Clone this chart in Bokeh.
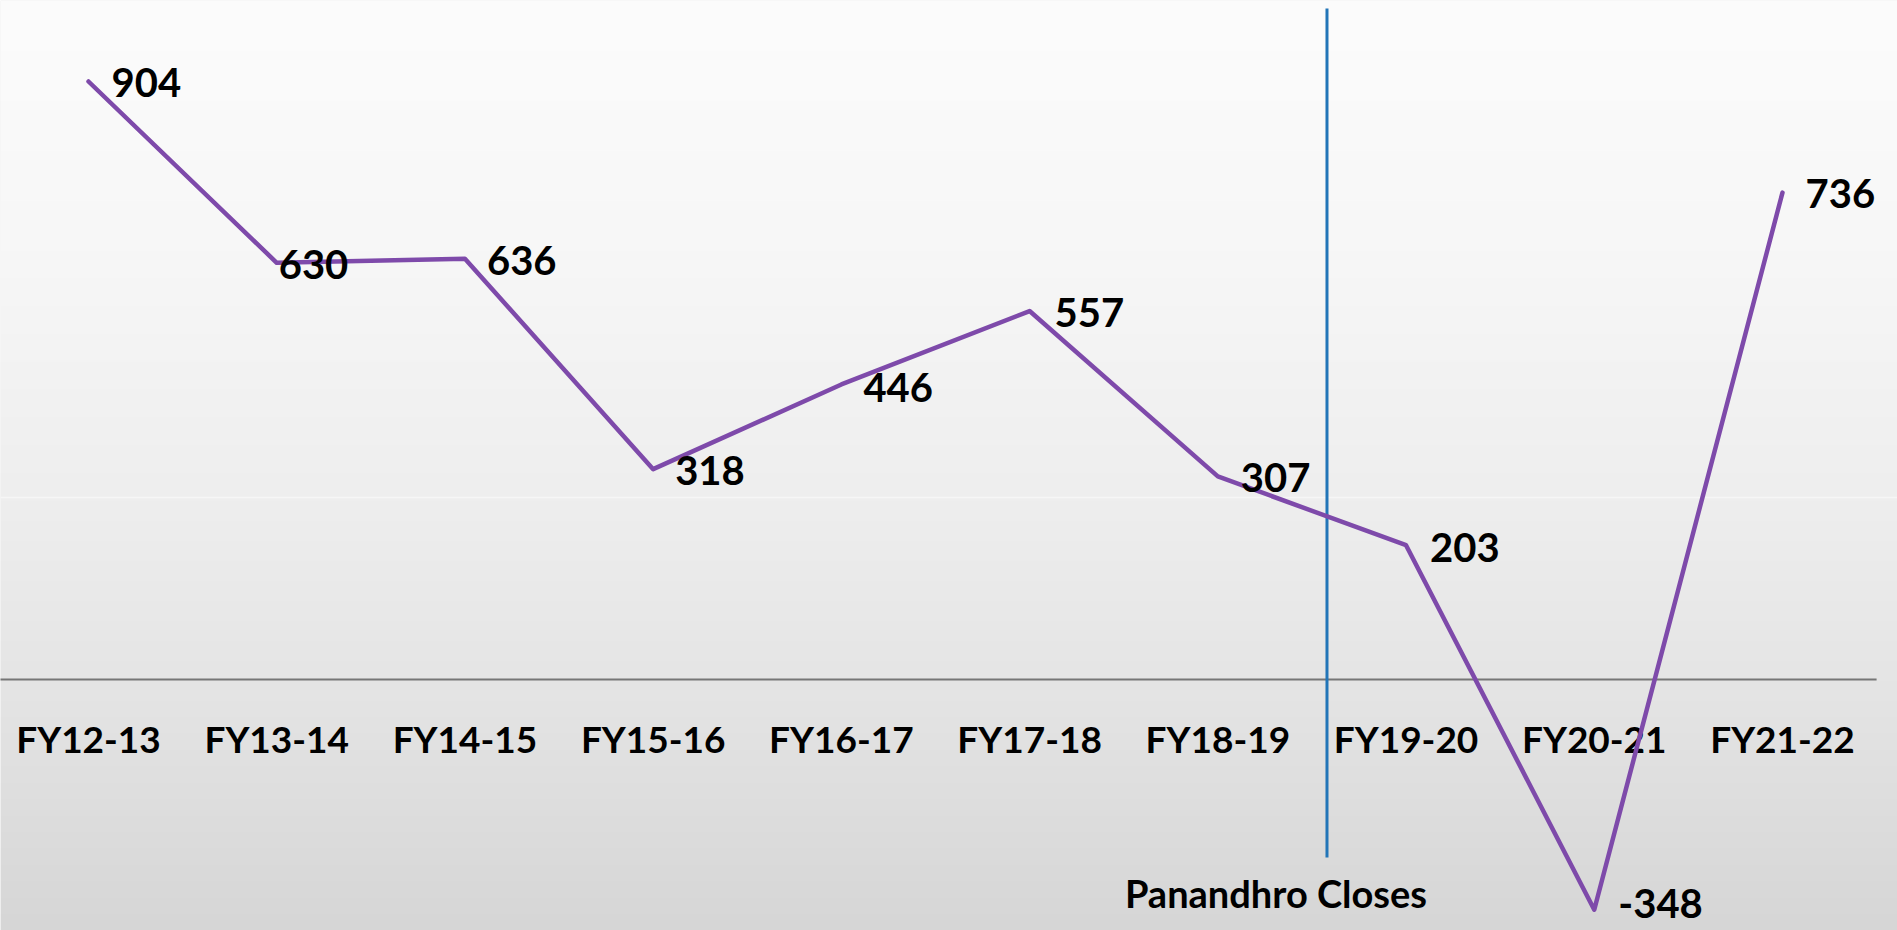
import numpy as np
from bokeh.plotting import figure
from bokeh.models import Range1d, ColumnDataSource
from bokeh.core.properties import value
from bokeh.embed import file_html
from bokeh.resources import INLINE

# ---- data ----
categories = ["FY12-13", "FY13-14", "FY14-15", "FY15-16", "FY16-17",
              "FY17-18", "FY18-19", "FY19-20", "FY20-21", "FY21-22"]
values = [904, 630, 636, 318, 446, 557, 307, 203, -348, 736]
value_labels = [str(v) for v in values]
annotation_text = "Panandhro Closes"
annotation_pos = 6.58      # between FY18-19 and FY19-20
annotation_bottom = -269

# ---- layout / style ----
label_dx = [23, 2, 22, 22, 22, 25, 23, 24, 24, 23]
label_dy = [1, 2, 2, 1, 3, 1, 1, 2, -6, 1]
FONT = value("Lato")
PURPLE = "#7E4AAA"
BLUE = "#2275B8"

W, H = 1897, 930
PX_X = 188.22
PX_Y = 0.6615
x0 = -88 / PX_X
x1 = x0 + W / PX_X
y1 = 679 / PX_Y
y0 = -(H - 679) / PX_Y

p = figure(width=W, height=H, output_backend="svg", toolbar_location=None,
           x_range=Range1d(x0, x1), y_range=Range1d(y0, y1),
           min_border=0, min_border_left=0, min_border_right=0,
           min_border_top=0, min_border_bottom=0)
p.axis.visible = False
p.grid.visible = False
p.outline_line_color = None
p.background_fill_color = "#EEEEEE"
p.border_fill_color = "#EEEEEE"

# background vertical gradient
stops_y = np.array([0, 250, 500, 700, 930])
stops_v = np.array([252, 247, 238, 228, 214])
rows = np.interp(np.arange(H), stops_y, stops_v)[::-1]  # bottom row first
img = np.zeros((H, 1), dtype=np.uint32)
view = img.view(dtype=np.uint8).reshape((H, 1, 4))
view[:, 0, 0] = rows.astype(np.uint8)
view[:, 0, 1] = rows.astype(np.uint8)
view[:, 0, 2] = rows.astype(np.uint8)
view[:, 0, 3] = 255
p.image_rgba(image=[img], x=x0, y=y0, dw=x1 - x0, dh=y1 - y0)

# faint background line
yf = (679 - 497) / PX_Y
p.segment(x0=[x0], y0=[yf], x1=[x1], y1=[yf], line_color="#F6F6F6", line_width=1.5)

idx = list(range(len(categories)))

# zero axis line
p.segment(x0=[-0.5], y0=[0], x1=[len(categories) - 0.5], y1=[0],
          line_color="#767676", line_width=2)

# category labels
src_cat = ColumnDataSource(dict(x=idx, y=[0] * len(idx), t=categories))
p.text(x="x", y="y", text="t", source=src_cat, y_offset=59,
       text_align="center", text_baseline="middle",
       text_font=FONT, text_font_style="bold", text_font_size="37px",
       text_color="black")

# vertical annotation line
p.segment(x0=[annotation_pos], y0=[annotation_bottom], x1=[annotation_pos],
          y1=[y1 - 8 / PX_Y], line_color=BLUE, line_width=3)
p.text(x=[annotation_pos], y=[annotation_bottom], text=[annotation_text],
       x_offset=-51, y_offset=36, text_align="center", text_baseline="middle",
       text_font=FONT, text_font_style="bold", text_font_size="38px",
       text_color="black")

# main line
p.line(idx, values, line_color=PURPLE, line_width=4.5, line_join="round",
       line_cap="round")

# value labels
src_val = ColumnDataSource(dict(x=idx, y=values, t=value_labels,
                                dx=label_dx, dy=label_dy))
p.text(x="x", y="y", text="t", x_offset="dx", y_offset="dy", source=src_val,
       text_align="left", text_baseline="middle",
       text_font=FONT, text_font_style="bold", text_font_size="40px",
       text_color="black")

open("out.html", "w").write(file_html(p, INLINE))
